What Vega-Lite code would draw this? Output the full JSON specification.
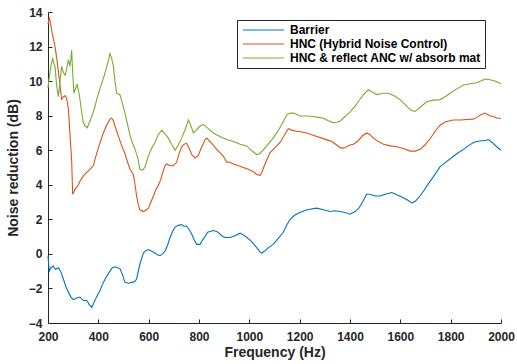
{
  "$schema": "https://vega.github.io/schema/vega-lite/v6.json",
  "width": 453,
  "height": 311,
  "autosize": "none",
  "padding": {"left": 48, "top": 12, "right": 16, "bottom": 41},
  "background": "white",
  "config": {
    "view": {"stroke": null},
    "font": "Liberation Sans",
    "axis": {
      "grid": false,
      "domainColor": "#262626",
      "tickColor": "#262626",
      "labelColor": "#262626",
      "titleColor": "#262626",
      "labelFont": "Liberation Sans",
      "titleFont": "Liberation Sans",
      "labelFontWeight": "bold",
      "titleFontWeight": "bold",
      "labelFontSize": 12,
      "titleFontSize": 14,
      "tickSize": -4,
      "domainWidth": 1,
      "tickWidth": 1,
      "labelFlush": false,
      "labelOverlap": false
    },
    "legend": {
      "orient": "none",
      "legendX": 189,
      "legendY": 8,
      "strokeColor": "#262626",
      "fillColor": "white",
      "padding": 4,
      "labelFont": "Liberation Sans",
      "labelFontWeight": "bold",
      "labelFontSize": 12,
      "labelColor": "#000000",
      "labelLimit": 400,
      "symbolType": "M-1,0H9.25",
      "symbolSize": 64,
      "symbolStrokeWidth": 1,
      "labelOffset": 37,
      "rowPadding": 2
    }
  },
  "encoding": {
    "x": {"field": "f", "type": "quantitative", "scale": {"domain": [200, 2000], "nice": false}, "axis": {"values": [200,400,600,800,1000,1200,1400,1600,1800,2000], "format": "d", "title": "Frequency (Hz)", "labelPadding": 12, "titlePadding": 3}},
    "y": {"field": "v", "type": "quantitative", "scale": {"domain": [-4, 14], "nice": false, "zero": false}, "axis": {"values": [-4,-2,0,2,4,6,8,10,12,14], "title": "Noise reduction (dB)", "labelPadding": 10, "titlePadding": 8}},
    "color": {"scale": {"domain": ["Barrier", "HNC (Hybrid Noise Control)", "HNC & reflect ANC w/ absorb mat"], "range": ["#0072BD", "#D95319", "#77AC30"]}, "legend": {"title": null}}
  },
  "layer": [
    {
      "data": {"values": [
        {"f":200,"v":-0.1},{"f":205,"v":-1.0},{"f":212,"v":-0.8},{"f":221,"v":-0.7},{"f":230,"v":-0.9},{"f":241,"v":-0.8},{"f":250,"v":-1.0},{"f":261,"v":-1.45},{"f":271,"v":-1.9},{"f":281,"v":-2.2},{"f":291,"v":-2.5},{"f":301,"v":-2.65},{"f":314,"v":-2.55},{"f":327,"v":-2.5},{"f":340,"v":-2.7},{"f":354,"v":-2.7},{"f":365,"v":-2.95},{"f":374,"v":-3.1},{"f":383,"v":-2.8},{"f":393,"v":-2.5},{"f":407,"v":-2.1},{"f":420,"v":-1.65},{"f":433,"v":-1.3},{"f":446,"v":-1.0},{"f":456,"v":-0.8},{"f":466,"v":-0.75},{"f":476,"v":-0.8},{"f":486,"v":-0.85},{"f":496,"v":-1.2},{"f":506,"v":-1.65},{"f":520,"v":-1.7},{"f":533,"v":-1.65},{"f":545,"v":-1.6},{"f":552,"v":-1.45},{"f":565,"v":-0.6},{"f":579,"v":0.05},{"f":589,"v":0.2},{"f":599,"v":0.25},{"f":612,"v":0.15},{"f":625,"v":0.05},{"f":635,"v":-0.05},{"f":645,"v":-0.1},{"f":655,"v":0.0},{"f":665,"v":0.15},{"f":675,"v":0.5},{"f":685,"v":0.95},{"f":695,"v":1.3},{"f":705,"v":1.55},{"f":718,"v":1.65},{"f":731,"v":1.7},{"f":741,"v":1.6},{"f":751,"v":1.6},{"f":761,"v":1.4},{"f":771,"v":1.15},{"f":781,"v":0.8},{"f":791,"v":0.55},{"f":804,"v":0.55},{"f":814,"v":0.8},{"f":824,"v":1.0},{"f":834,"v":1.25},{"f":844,"v":1.3},{"f":857,"v":1.35},{"f":870,"v":1.3},{"f":880,"v":1.2},{"f":890,"v":1.05},{"f":903,"v":0.95},{"f":923,"v":0.95},{"f":943,"v":1.05},{"f":963,"v":1.2},{"f":976,"v":1.1},{"f":990,"v":0.95},{"f":1003,"v":0.8},{"f":1016,"v":0.6},{"f":1030,"v":0.35},{"f":1043,"v":0.1},{"f":1049,"v":0.05},{"f":1060,"v":0.15},{"f":1075,"v":0.35},{"f":1095,"v":0.55},{"f":1115,"v":0.9},{"f":1135,"v":1.25},{"f":1150,"v":1.7},{"f":1162,"v":2.0},{"f":1181,"v":2.25},{"f":1201,"v":2.4},{"f":1230,"v":2.55},{"f":1268,"v":2.65},{"f":1295,"v":2.55},{"f":1321,"v":2.45},{"f":1340,"v":2.5},{"f":1360,"v":2.45},{"f":1380,"v":2.4},{"f":1400,"v":2.3},{"f":1420,"v":2.45},{"f":1433,"v":2.6},{"f":1450,"v":3.0},{"f":1466,"v":3.45},{"f":1480,"v":3.45},{"f":1500,"v":3.35},{"f":1519,"v":3.35},{"f":1540,"v":3.45},{"f":1566,"v":3.55},{"f":1590,"v":3.4},{"f":1612,"v":3.25},{"f":1630,"v":3.1},{"f":1645,"v":2.95},{"f":1660,"v":3.05},{"f":1678,"v":3.35},{"f":1695,"v":3.7},{"f":1711,"v":4.05},{"f":1728,"v":4.4},{"f":1745,"v":4.75},{"f":1758,"v":5.05},{"f":1780,"v":5.3},{"f":1811,"v":5.65},{"f":1830,"v":5.85},{"f":1851,"v":6.05},{"f":1870,"v":6.25},{"f":1890,"v":6.45},{"f":1904,"v":6.5},{"f":1920,"v":6.55},{"f":1935,"v":6.55},{"f":1950,"v":6.62},{"f":1965,"v":6.45},{"f":1983,"v":6.2},{"f":2000,"v":6.0}
      ]},
      "mark": {"type": "line", "strokeWidth": 1.1},
      "encoding": {"color": {"datum": "Barrier"}}
    },
    {
      "data": {"values": [
        {"f":200,"v":13.3},{"f":205,"v":13.7},{"f":208,"v":13.5},{"f":215,"v":12.9},{"f":222,"v":12.4},{"f":228,"v":12.0},{"f":235,"v":11.3},{"f":241,"v":10.6},{"f":248,"v":9.7},{"f":254,"v":8.95},{"f":261,"v":9.1},{"f":268,"v":9.15},{"f":274,"v":9.0},{"f":281,"v":8.4},{"f":287,"v":7.0},{"f":294,"v":5.4},{"f":298,"v":3.45},{"f":303,"v":3.6},{"f":307,"v":3.75},{"f":317,"v":3.9},{"f":327,"v":4.2},{"f":340,"v":4.5},{"f":353,"v":4.7},{"f":367,"v":4.9},{"f":380,"v":5.1},{"f":393,"v":5.8},{"f":407,"v":6.45},{"f":420,"v":7.0},{"f":433,"v":7.45},{"f":446,"v":7.8},{"f":453,"v":7.85},{"f":460,"v":7.7},{"f":466,"v":7.4},{"f":473,"v":7.1},{"f":480,"v":6.8},{"f":493,"v":6.25},{"f":506,"v":5.8},{"f":513,"v":5.45},{"f":526,"v":4.9},{"f":539,"v":4.6},{"f":546,"v":4.0},{"f":552,"v":3.35},{"f":559,"v":2.85},{"f":565,"v":2.55},{"f":579,"v":2.45},{"f":592,"v":2.55},{"f":599,"v":2.65},{"f":609,"v":3.0},{"f":619,"v":3.35},{"f":628,"v":3.7},{"f":638,"v":3.95},{"f":648,"v":4.3},{"f":658,"v":4.8},{"f":665,"v":5.1},{"f":672,"v":5.2},{"f":685,"v":5.1},{"f":698,"v":5.1},{"f":711,"v":5.3},{"f":721,"v":5.8},{"f":731,"v":6.2},{"f":741,"v":6.35},{"f":751,"v":6.4},{"f":761,"v":6.1},{"f":771,"v":5.75},{"f":784,"v":5.55},{"f":797,"v":5.7},{"f":811,"v":6.2},{"f":824,"v":6.6},{"f":831,"v":6.7},{"f":844,"v":6.5},{"f":857,"v":6.3},{"f":870,"v":6.05},{"f":884,"v":5.85},{"f":897,"v":5.65},{"f":910,"v":5.3},{"f":923,"v":5.3},{"f":937,"v":5.2},{"f":957,"v":5.1},{"f":976,"v":5.0},{"f":996,"v":4.9},{"f":1016,"v":4.75},{"f":1029,"v":4.6},{"f":1043,"v":4.55},{"f":1049,"v":4.7},{"f":1062,"v":5.2},{"f":1082,"v":5.85},{"f":1102,"v":6.15},{"f":1122,"v":6.45},{"f":1140,"v":6.9},{"f":1155,"v":7.25},{"f":1170,"v":7.15},{"f":1188,"v":7.1},{"f":1208,"v":7.05},{"f":1228,"v":7.0},{"f":1248,"v":6.9},{"f":1268,"v":6.8},{"f":1288,"v":6.7},{"f":1308,"v":6.6},{"f":1328,"v":6.5},{"f":1347,"v":6.3},{"f":1360,"v":6.15},{"f":1373,"v":6.12},{"f":1387,"v":6.2},{"f":1400,"v":6.3},{"f":1413,"v":6.35},{"f":1430,"v":6.5},{"f":1450,"v":6.85},{"f":1466,"v":7.0},{"f":1480,"v":6.9},{"f":1493,"v":6.7},{"f":1513,"v":6.5},{"f":1533,"v":6.35},{"f":1560,"v":6.25},{"f":1586,"v":6.2},{"f":1612,"v":6.1},{"f":1639,"v":5.95},{"f":1660,"v":5.95},{"f":1678,"v":6.05},{"f":1698,"v":6.3},{"f":1718,"v":6.65},{"f":1738,"v":7.1},{"f":1758,"v":7.45},{"f":1780,"v":7.65},{"f":1811,"v":7.75},{"f":1840,"v":7.75},{"f":1864,"v":7.78},{"f":1890,"v":7.8},{"f":1904,"v":7.9},{"f":1920,"v":8.05},{"f":1937,"v":8.15},{"f":1955,"v":8.0},{"f":1970,"v":7.95},{"f":1985,"v":7.85},{"f":2000,"v":7.85}
      ]},
      "mark": {"type": "line", "strokeWidth": 1.1},
      "encoding": {"color": {"datum": "HNC (Hybrid Noise Control)"}}
    },
    {
      "data": {"values": [
        {"f":200,"v":9.6},{"f":204,"v":10.1},{"f":208,"v":10.5},{"f":213,"v":11.0},{"f":219,"v":11.3},{"f":224,"v":11.0},{"f":228,"v":10.85},{"f":234,"v":9.8},{"f":241,"v":9.1},{"f":248,"v":10.0},{"f":254,"v":10.85},{"f":261,"v":10.5},{"f":268,"v":10.35},{"f":274,"v":10.7},{"f":281,"v":11.25},{"f":287,"v":10.85},{"f":291,"v":11.3},{"f":294,"v":11.8},{"f":298,"v":10.5},{"f":303,"v":9.3},{"f":310,"v":9.6},{"f":316,"v":9.8},{"f":322,"v":9.4},{"f":327,"v":8.95},{"f":334,"v":8.2},{"f":340,"v":7.6},{"f":348,"v":7.4},{"f":356,"v":7.3},{"f":364,"v":7.6},{"f":374,"v":7.95},{"f":384,"v":8.4},{"f":393,"v":8.9},{"f":403,"v":9.4},{"f":413,"v":9.85},{"f":423,"v":10.3},{"f":433,"v":10.8},{"f":440,"v":11.2},{"f":446,"v":11.6},{"f":453,"v":11.3},{"f":460,"v":10.85},{"f":466,"v":10.0},{"f":473,"v":9.3},{"f":480,"v":9.25},{"f":486,"v":9.2},{"f":496,"v":8.7},{"f":506,"v":8.15},{"f":516,"v":7.5},{"f":526,"v":6.85},{"f":536,"v":6.4},{"f":546,"v":6.05},{"f":556,"v":5.6},{"f":565,"v":4.9},{"f":575,"v":4.85},{"f":585,"v":5.0},{"f":595,"v":5.5},{"f":605,"v":5.9},{"f":615,"v":6.2},{"f":625,"v":6.45},{"f":638,"v":6.9},{"f":652,"v":7.15},{"f":665,"v":6.95},{"f":678,"v":6.7},{"f":691,"v":6.35},{"f":705,"v":6.0},{"f":718,"v":6.3},{"f":731,"v":6.7},{"f":745,"v":7.2},{"f":758,"v":7.75},{"f":768,"v":7.4},{"f":778,"v":7.0},{"f":791,"v":7.2},{"f":805,"v":7.4},{"f":817,"v":7.5},{"f":837,"v":7.25},{"f":857,"v":7.0},{"f":883,"v":6.8},{"f":910,"v":6.62},{"f":937,"v":6.5},{"f":963,"v":6.35},{"f":990,"v":6.25},{"f":1003,"v":6.05},{"f":1016,"v":5.9},{"f":1029,"v":5.75},{"f":1040,"v":5.8},{"f":1055,"v":6.0},{"f":1069,"v":6.25},{"f":1089,"v":6.6},{"f":1109,"v":7.0},{"f":1129,"v":7.5},{"f":1149,"v":8.05},{"f":1162,"v":8.15},{"f":1175,"v":8.15},{"f":1201,"v":7.98},{"f":1228,"v":7.98},{"f":1254,"v":7.95},{"f":1274,"v":7.9},{"f":1294,"v":7.85},{"f":1314,"v":7.7},{"f":1334,"v":7.6},{"f":1347,"v":7.62},{"f":1360,"v":7.67},{"f":1373,"v":7.85},{"f":1387,"v":8.05},{"f":1400,"v":8.2},{"f":1420,"v":8.55},{"f":1440,"v":8.95},{"f":1455,"v":9.25},{"f":1473,"v":9.5},{"f":1490,"v":9.35},{"f":1506,"v":9.22},{"f":1530,"v":9.3},{"f":1552,"v":9.3},{"f":1575,"v":9.15},{"f":1599,"v":8.93},{"f":1615,"v":8.7},{"f":1632,"v":8.45},{"f":1645,"v":8.3},{"f":1659,"v":8.25},{"f":1680,"v":8.5},{"f":1705,"v":8.8},{"f":1730,"v":8.9},{"f":1758,"v":8.93},{"f":1778,"v":9.1},{"f":1798,"v":9.3},{"f":1825,"v":9.55},{"f":1851,"v":9.78},{"f":1878,"v":9.85},{"f":1904,"v":9.9},{"f":1920,"v":10.0},{"f":1937,"v":10.12},{"f":1955,"v":10.08},{"f":1970,"v":10.04},{"f":1985,"v":9.95},{"f":2000,"v":9.85}
      ]},
      "mark": {"type": "line", "strokeWidth": 1.1},
      "encoding": {"color": {"datum": "HNC & reflect ANC w/ absorb mat"}}
    }
  ]
}
